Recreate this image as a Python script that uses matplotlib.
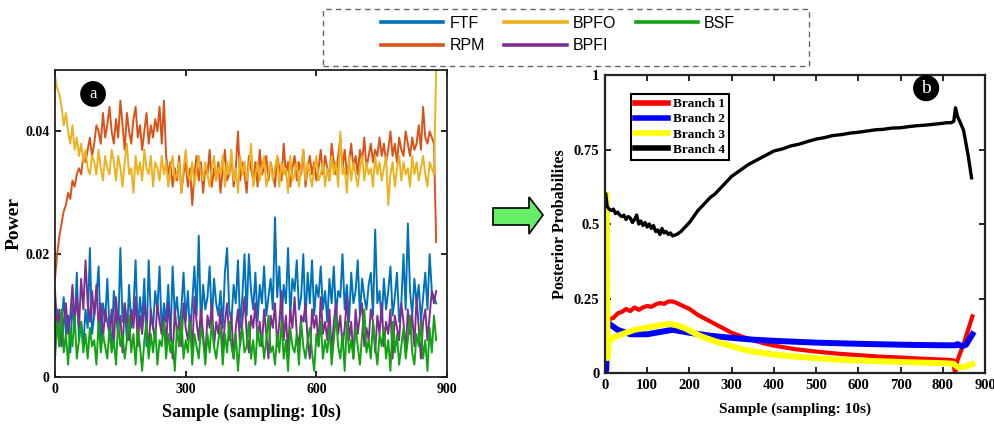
import numpy as np
import matplotlib.pyplot as plt
from matplotlib.lines import Line2D
from matplotlib.patches import Rectangle, Polygon

# ---- panel (a): power of the fault frequencies (values x 1e-3) ----
samples_a = np.arange(0, 880, 5)

ftf = [6, 11, 5, 9, 13, 7, 10, 4, 12, 8, 17, 6, 9, 5, 11, 8, 21, 7, 10, 13, 18, 6, 12, 9, 16,
       8, 5, 14, 10, 7, 21, 9, 12, 6, 15, 8, 11, 19, 7, 13, 9, 16, 5, 19, 10, 8, 14, 11, 18, 7,
       12, 9, 15, 6, 18, 10, 13, 8, 11, 17, 9, 14, 7, 12, 18, 10, 23, 8, 15, 11, 13, 18, 9, 16, 12,
       10, 14, 8, 17, 21, 11, 9, 15, 12, 19, 8, 13, 20, 10, 20, 14, 11, 17, 9, 15, 12, 18, 10, 13, 16,
       11, 26, 13, 18, 9, 15, 12, 21, 10, 16, 14, 19, 11, 13, 20, 9, 17, 12, 19, 10, 15, 13, 18, 11, 14,
       9, 16, 12, 18, 10, 14, 13, 20, 11, 15, 9, 17, 12, 14, 19, 10, 16, 13, 11, 15, 17, 10, 24, 12, 14,
       9, 16, 11, 14, 18, 10, 13, 17, 9, 12, 20, 11, 25, 14, 10, 16, 12, 15, 9, 13, 17, 11, 20, 14, 13,
       12]
rpm = [16, 20, 23, 25, 27, 28, 30, 29, 32, 31, 33, 34, 33, 36, 35, 37, 39, 36, 38, 41, 40, 38, 43, 39, 41,
       44, 40, 38, 42, 39, 45, 41, 37, 43, 40, 38, 42, 44, 39, 41, 37, 40, 43, 38, 41, 39, 42, 40, 44, 38,
       45, 36, 33, 35, 31, 34, 32, 36, 30, 33, 35, 31, 34, 28, 33, 36, 32, 35, 30, 34, 33, 37, 31, 34, 32,
       35, 30, 34, 37, 32, 33, 36, 31, 34, 40, 32, 35, 33, 30, 36, 34, 32, 35, 31, 37, 33, 34, 36, 32, 35,
       33, 31, 36, 34, 32, 38, 33, 35, 31, 34, 36, 32, 35, 33, 37, 31, 34, 36, 33, 35, 32, 34, 37, 33, 36,
       34, 32, 38, 35, 33, 36, 39, 34, 37, 33, 35, 38, 34, 36, 33, 37, 35, 39, 34, 36, 38, 35, 37, 36, 39,
       36, 38, 35, 37, 40, 36, 38, 35, 39, 37, 36, 40, 38, 36, 39, 37, 38, 41, 37, 44, 39, 38, 40, 39, 38,
       22]
bpfo = [49, 47, 46, 44, 41, 43, 40, 38, 41, 37, 39, 36, 38, 35, 37, 34, 33, 36, 35, 33, 37, 34, 32, 36, 34,
        33, 37, 35, 32, 36, 34, 31, 35, 38, 33, 34, 30, 36, 33, 35, 32, 37, 34, 33, 36, 31, 35, 34, 32, 36,
        33, 35, 31, 34, 36, 32, 33, 35, 30, 34, 37, 33, 32, 35, 31, 34, 36, 33, 32, 35, 33, 31, 34, 36, 32,
        34, 33, 36, 31, 35, 33, 37, 32, 34, 30, 36, 33, 35, 32, 34, 38, 31, 33, 35, 32, 34, 36, 31, 33, 35,
        32, 34, 36, 31, 35, 33, 34, 30, 36, 32, 33, 35, 31, 34, 37, 32, 35, 33, 31, 34, 36, 32, 33, 35, 31,
        34, 32, 36, 33, 35, 31, 40, 33, 34, 30, 36, 32, 35, 33, 31, 34, 36, 32, 35, 33, 34, 31, 36, 33, 35,
        32, 34, 36, 28, 33, 35, 31, 34, 36, 32, 35, 33, 34, 31, 36, 33, 35, 32, 34, 36, 33, 31, 35, 34, 33,
        50]
bpfi = [14, 8, 11, 5, 9, 12, 7, 10, 15, 9, 13, 8, 16, 11, 19, 12, 9, 14, 10, 15, 8, 12, 6, 11, 9,
        7, 11, 5, 13, 8, 10, 4, 12, 9, 6, 11, 8, 13, 5, 10, 7, 12, 9, 4, 11, 8, 6, 12, 9, 7,
        10, 5, 12, 8, 3, 11, 7, 9, 5, 12, 8, 6, 10, 4, 13, 9, 6, 11, 7, 3, 10, 8, 12, 5, 9,
        7, 11, 4, 9, 12, 6, 10, 3, 8, 11, 5, 9, 13, 7, 4, 10, 8, 12, 6, 9, 5, 11, 7, 3, 10,
        8, 12, 5, 9, 14, 6, 10, 4, 11, 8, 13, 7, 5, 10, 9, 12, 6, 3, 11, 8, 10, 5, 13, 7, 9,
        6, 11, 4, 9, 12, 7, 10, 5, 8, 13, 6, 9, 3, 11, 7, 10, 12, 5, 8, 6, 11, 9, 4, 10, 7,
        12, 5, 9, 7, 11, 3, 10, 8, 6, 12, 9, 4, 11, 7, 10, 5, 13, 8, 3, 9, 11, 6, 10, 14, 12,
        14]
bsf = [3, 9, 5, 11, 4, 7, 2, 8, 5, 10, 3, 6, 9, 4, 7, 3, 8, 5, 6, 2, 9, 4, 7, 5, 3,
       8, 4, 6, 2, 9, 5, 7, 3, 6, 10, 4, 7, 2, 8, 5, 1, 6, 9, 3, 7, 4, 8, 2, 6, 5,
       9, 3, 7, 4, 6, 1, 8, 5, 10, 3, 6, 4, 9, 2, 7, 5, 3, 8, 6, 2, 7, 4, 9, 5, 3,
       6, 8, 2, 7, 4, 9, 5, 3, 7, 1, 6, 8, 4, 5, 9, 3, 6, 2, 8, 5, 7, 3, 6, 10, 4,
       5, 2, 7, 4, 9, 3, 6, 1, 8, 5, 4, 7, 2, 9, 5, 3, 6, 8, 4, 1, 7, 5, 9, 3, 6,
       4, 8, 2, 6, 10, 5, 3, 7, 1, 9, 4, 6, 3, 8, 5, 2, 7, 11, 4, 6, 3, 9, 5, 2, 7,
       5, 8, 3, 6, 1, 9, 4, 7, 2, 5, 8, 3, 6, 10, 4, 2, 7, 5, 9, 3, 6, 1, 8, 4, 10,
       6]

names_a = ['FTF', 'RPM', 'BPFO', 'BPFI', 'BSF']
colors_a = ['#0072BD', '#D95319', '#EDB120', '#7E2F8E', '#12A312']

# ---- panel (b): posterior probabilities of the branches ----
b1_x = [5, 10, 20, 30, 40, 50, 60, 70, 80, 90, 100, 110, 120, 130, 140, 150, 160, 170, 180,
        200, 220, 240, 260, 280, 300, 325, 350, 375, 400, 450, 500, 550, 600, 650, 700, 750,
        800, 825, 829, 834, 850, 870]
b1_y = [0.17, 0.18, 0.185, 0.2, 0.205, 0.215, 0.208, 0.22, 0.212, 0.22, 0.225, 0.222, 0.23,
        0.235, 0.232, 0.24, 0.24, 0.235, 0.228, 0.215, 0.195, 0.18, 0.165, 0.15, 0.135, 0.122,
        0.11, 0.1, 0.092, 0.08, 0.072, 0.065, 0.06, 0.055, 0.052, 0.048, 0.045, 0.043, -0.005,
        0.04, 0.1, 0.19]
b2_x = [0, 3, 5, 10, 20, 30, 40, 50, 60, 80, 100, 120, 140, 160, 180, 200, 250, 300, 350, 400,
        450, 500, 600, 700, 800, 830, 835, 845, 855, 870]
b2_y = [0.0, 0.01, 0.16, 0.165, 0.155, 0.145, 0.14, 0.135, 0.13, 0.13, 0.13, 0.135, 0.14,
        0.145, 0.14, 0.135, 0.125, 0.118, 0.112, 0.108, 0.105, 0.102, 0.098, 0.095, 0.093,
        0.093, 0.097, 0.09, 0.095, 0.13]
b3_x = [0, 2, 4, 6, 8, 15, 30, 50, 70, 90, 110, 130, 150, 170, 190, 210, 230, 250, 275, 300,
        325, 350, 400, 450, 500, 550, 600, 700, 800, 825, 835, 850, 860, 870]
b3_y = [0.1, 0.6, 0.6, 0.05, 0.1, 0.115, 0.125, 0.135, 0.145, 0.15, 0.155, 0.16, 0.165, 0.16,
        0.15, 0.135, 0.122, 0.112, 0.1, 0.09, 0.08, 0.072, 0.062, 0.055, 0.05, 0.045, 0.042,
        0.037, 0.033, 0.031, 0.02, 0.02, 0.025, 0.03]
b4_x = [2, 5, 10, 15, 20, 25, 30, 35, 40, 45, 50, 55, 60, 65, 70, 75, 80, 85, 90, 95, 100, 105,
        110, 115, 120, 125, 130, 135, 140, 145, 150, 155, 160, 170, 180, 190, 200, 210, 220, 230,
        240, 250, 260, 270, 280, 290, 300, 320, 340, 360, 380, 400, 420, 440, 460, 480, 500, 520,
        540, 560, 580, 600, 620, 640, 660, 680, 700, 720, 740, 760, 780, 800, 810, 820, 826, 830,
        835, 840, 849, 860, 868]
b4_y = [0.6, 0.56, 0.55, 0.545, 0.55, 0.535, 0.54, 0.53, 0.525, 0.53, 0.515, 0.525, 0.52, 0.505,
        0.515, 0.53, 0.5, 0.51, 0.495, 0.505, 0.49, 0.5, 0.485, 0.495, 0.475, 0.48, 0.465, 0.485,
        0.47, 0.475, 0.465, 0.47, 0.46, 0.465, 0.475, 0.49, 0.505, 0.525, 0.545, 0.56, 0.575, 0.59,
        0.6, 0.615, 0.63, 0.645, 0.66, 0.68, 0.7, 0.715, 0.73, 0.745, 0.752, 0.762, 0.768, 0.777,
        0.785, 0.79, 0.797, 0.8, 0.805, 0.808, 0.812, 0.816, 0.818, 0.822, 0.823, 0.827, 0.83,
        0.832, 0.835, 0.838, 0.84, 0.84, 0.845, 0.89, 0.86, 0.845, 0.815, 0.73, 0.655]

serif = 'Liberation Serif'
sans = 'Liberation Sans'

fig = plt.figure(figsize=(9.95, 4.26), dpi=100)

# panel a
ax1 = fig.add_axes([0.0553, 0.115, 0.394, 0.7207])
series_a = [ftf, rpm, bpfo, bpfi, bsf]
for vals, name, c in zip(series_a, names_a, colors_a):
    ax1.plot(samples_a, np.array(vals) / 1000, color=c, lw=1.4, label=name)
ax1.set_xlim(0, 900)
ax1.set_ylim(0, 0.05)
ax1.set_xticks([0, 300, 600, 900])
ax1.set_yticks([0, 0.02, 0.04])
ax1.set_yticklabels(['0', '0.02', '0.04'])
ax1.set_xlabel('Sample (sampling: 10s)', fontfamily=serif, fontweight='bold', fontsize=13, labelpad=6)
ax1.set_ylabel('Power', fontfamily=serif, fontweight='bold', fontsize=14, labelpad=2)
ax1.text(0.097, 0.922, 'a', transform=ax1.transAxes, ha='center', va='center', color='white',
         fontsize=12, fontfamily=serif,
         bbox=dict(boxstyle='circle,pad=0.25', fc='black', ec='black'))

# panel b
ax2 = fig.add_axes([0.608, 0.1244, 0.382, 0.6995])
ax2.plot(b1_x, b1_y, color='#FF0000', lw=3.0, label='Branch 1')
ax2.plot(b2_x, b2_y, color='#0000FF', lw=4.3, label='Branch 2')
ax2.plot(b3_x, b3_y, color='#FFFF00', lw=4.3, label='Branch 3')
ax2.plot(b4_x, b4_y, color='black', lw=2.4, label='Branch 4')
ax2.set_xlim(0, 900)
ax2.set_ylim(0, 1)
ax2.set_xticks(range(0, 1000, 100))
ax2.set_yticks([0, 0.25, 0.5, 0.75, 1])
ax2.set_yticklabels(['0', '0.25', '0.5', '0.75', '1'])
ax2.set_xlabel('Sample (sampling: 10s)', fontfamily=serif, fontweight='bold', fontsize=11, labelpad=8)
ax2.set_ylabel('Posterior Probabilites', fontfamily=serif, fontweight='bold', fontsize=11.5, labelpad=4)
leg_b = ax2.legend(loc='upper left', bbox_to_anchor=(0.068, 0.936), borderaxespad=0,
                   prop={'family': serif, 'weight': 'bold', 'size': 9.5},
                   handlelength=2.5, handletextpad=0.4, labelspacing=0.22, borderpad=0.3,
                   fancybox=False, framealpha=1, edgecolor='black')
leg_b.get_frame().set_linewidth(1.5)
for h in leg_b.get_lines():
    h.set_linewidth(4)
ax2.text(0.845, 0.956, 'b', transform=ax2.transAxes, ha='center', va='center', color='white',
         fontsize=14, fontfamily=serif,
         bbox=dict(boxstyle='circle,pad=0.2', fc='black', ec='black'))

for ax, lw, fs in [(ax1, 1.3, 10), (ax2, 1.6, 10.5)]:
    for s in ax.spines.values():
        s.set_linewidth(lw)
        s.set_color('#222222')
    ax.tick_params(direction='in', top=True, right=True, length=4, width=1.2, pad=4)
    for lab in ax.get_xticklabels() + ax.get_yticklabels():
        lab.set_fontfamily(serif)
        lab.set_fontweight('bold')
        lab.set_fontsize(fs)

# shared legend at top in a dashed box
fig.patches.append(Rectangle((323 / 995, 1 - 66 / 426), 486 / 995, 57 / 426, transform=fig.transFigure,
                             fill=False, ec='#666666', lw=1.0, ls=(0, (4, 3))))
handles = [Line2D([], [], color=c, lw=2.6) for c in colors_a]
fig.legend(handles, names_a, loc='upper left', bbox_to_anchor=(381 / 995, 1 - 16 / 426), ncol=3,
           frameon=False, prop={'family': sans, 'size': 11.5}, handlelength=3.9, handletextpad=0.4,
           columnspacing=1.2, labelspacing=0.45, borderpad=0, borderaxespad=0)

# green arrow between the panels
arrow_px = [(493, 208), (529, 208), (529, 197), (543, 215), (529, 234), (529, 225), (493, 225)]
fig.patches.append(Polygon([(x / 995, 1 - y / 426) for x, y in arrow_px], closed=True,
                           transform=fig.transFigure, fc='#66EE66', ec='black', lw=1.2))

fig.savefig('out.png', dpi=100)
